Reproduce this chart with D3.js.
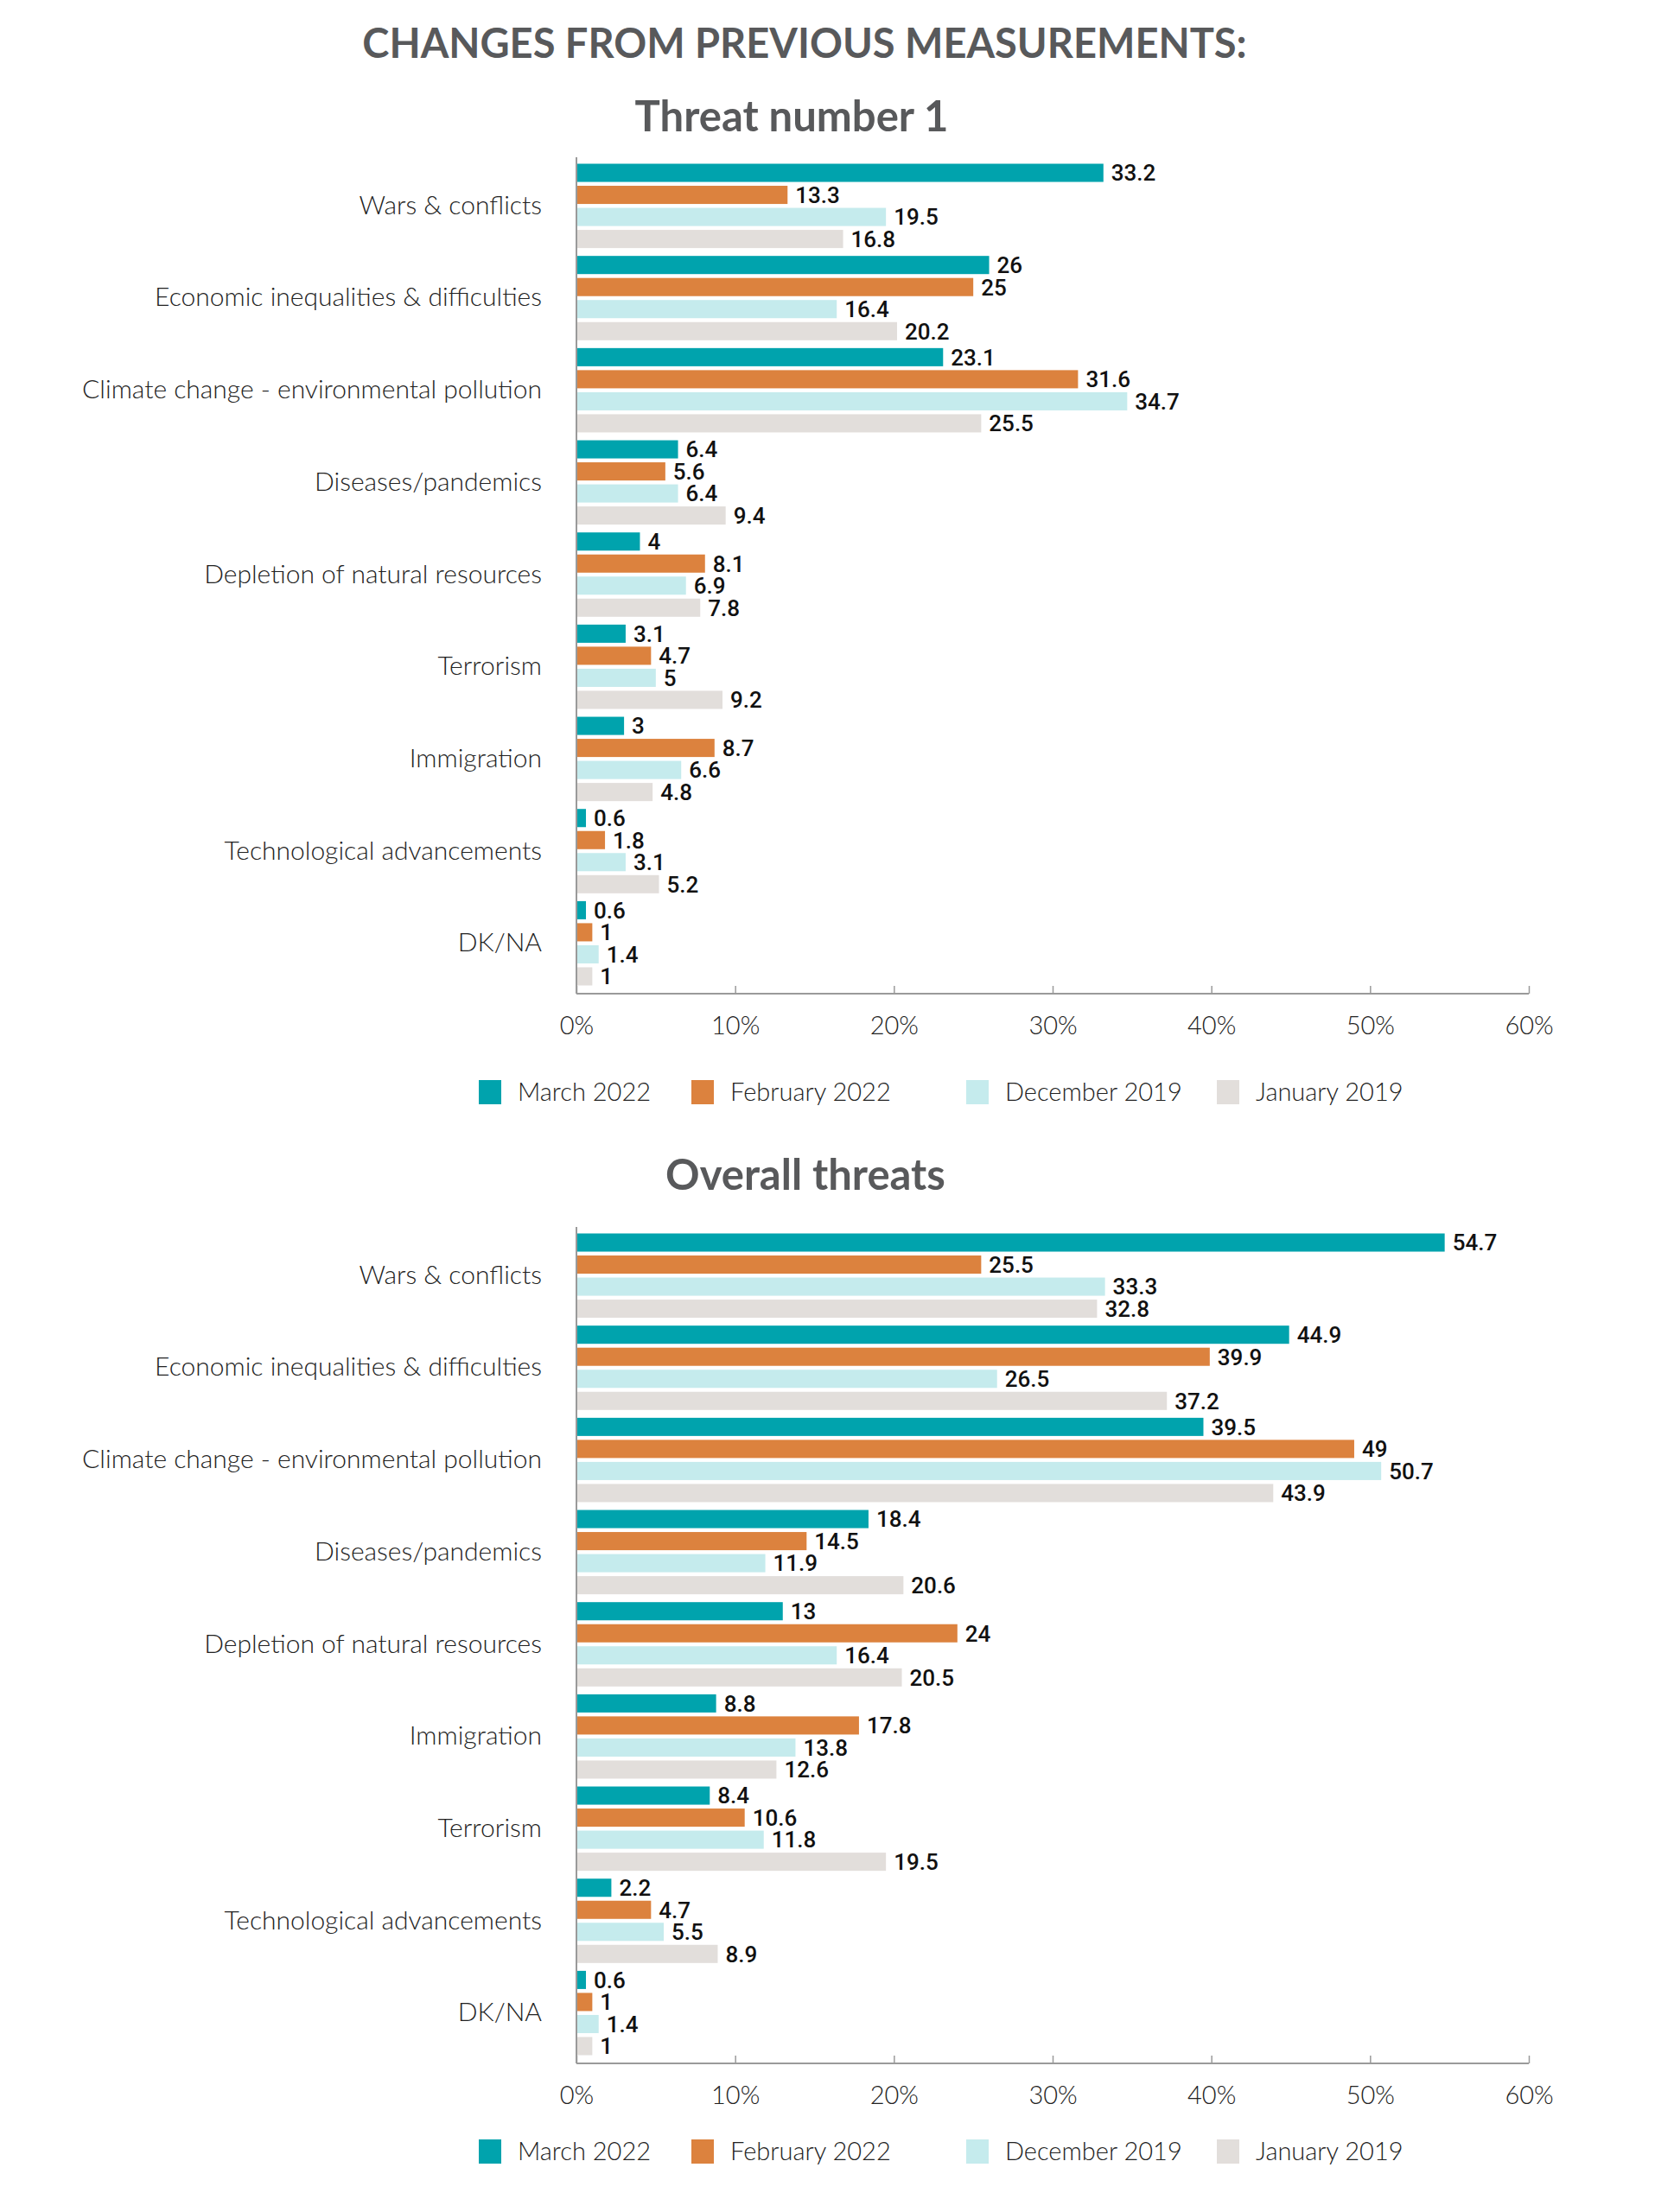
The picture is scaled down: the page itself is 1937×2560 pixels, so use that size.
<!DOCTYPE html>
<html>
<head>
<meta charset="utf-8">
<script src="https://cdn.jsdelivr.net/npm/d3@7"></script>
<style>
  html, body { margin: 0; padding: 0; background: #fff; }
  svg { display: block; }
</style>
</head>
<body>
<script>
// ---------- DATA ----------
const series = ["March 2022", "February 2022", "December 2019", "January 2019"];
const seriesColors = ["#00a3ad", "#dc823e", "#c5ebed", "#e2dedb"];

const threat1Categories = [
  "Wars & conflicts", "Economic inequalities & difficulties",
  "Climate change - environmental pollution", "Diseases/pandemics",
  "Depletion of natural resources", "Terrorism", "Immigration",
  "Technological advancements", "DK/NA"
];
const threat1March2022 = [33.2, 26, 23.1, 6.4, 4, 3.1, 3, 0.6, 0.6];
const threat1February2022 = [13.3, 25, 31.6, 5.6, 8.1, 4.7, 8.7, 1.8, 1];
const threat1December2019 = [19.5, 16.4, 34.7, 6.4, 6.9, 5, 6.6, 3.1, 1.4];
const threat1January2019 = [16.8, 20.2, 25.5, 9.4, 7.8, 9.2, 4.8, 5.2, 1];

const overallCategories = [
  "Wars & conflicts", "Economic inequalities & difficulties",
  "Climate change - environmental pollution", "Diseases/pandemics",
  "Depletion of natural resources", "Immigration", "Terrorism",
  "Technological advancements", "DK/NA"
];
const overallMarch2022 = [54.7, 44.9, 39.5, 18.4, 13, 8.8, 8.4, 2.2, 0.6];
const overallFebruary2022 = [25.5, 39.9, 49, 14.5, 24, 17.8, 10.6, 4.7, 1];
const overallDecember2019 = [33.3, 26.5, 50.7, 11.9, 16.4, 13.8, 11.8, 5.5, 1.4];
const overallJanuary2019 = [32.8, 37.2, 43.9, 20.6, 20.5, 12.6, 19.5, 8.9, 1];

const xTicks = [0, 10, 20, 30, 40, 50, 60];
const mainTitle = "CHANGES FROM PREVIOUS MEASUREMENTS:";
const chartTitles = ["Threat number 1", "Overall threats"];

// ---------- DRAW ----------
const W = 1937, H = 2560;
const svg = d3.select("body").append("svg")
  .attr("width", W).attr("height", H)
  .attr("viewBox", `0 0 ${W} ${H}`);

const titleColor = "#58595b";
const textColor = "#222";
const axisColor = "#9a9a9a";
const labelFont = "Lato, 'Open Sans', sans-serif";
const valueFont = "Roboto, 'Open Sans', sans-serif";

svg.append("text")
  .attr("x", 931).attr("y", 67)
  .attr("text-anchor", "middle")
  .attr("font-family", labelFont)
  .attr("font-weight", 700)
  .attr("font-size", 47)
  .attr("fill", titleColor)
  .text(mainTitle);

const x = d3.scaleLinear().domain([0, 60]).range([667, 1769]);

function drawChart(opts) {
  const { title, titleX, titleY, categories, values, top, legendY } = opts;
  const g = svg.append("g");

  g.append("text")
    .attr("x", titleX).attr("y", titleY)
    .attr("text-anchor", "middle")
    .attr("font-family", labelFont)
    .attr("font-weight", 700)
    .attr("font-size", 49)
    .attr("fill", titleColor)
    .text(title);

  const firstBar = top + 7.5;
  const axisY = top + 968;
  const y = d3.scaleBand()
    .domain(categories)
    .range([firstBar, firstBar + 951])
    .paddingInner(0.085)
    .paddingOuter(0);
  const ys = d3.scaleBand()
    .domain(series)
    .range([0, y.bandwidth()])
    .paddingInner(0.176)
    .paddingOuter(0);

  // bars
  categories.forEach((cat, ci) => {
    const grp = g.append("g").attr("transform", `translate(0,${y(cat)})`);
    series.forEach((s, si) => {
      const v = values[si][ci];
      grp.append("rect")
        .attr("x", x(0))
        .attr("y", ys(s))
        .attr("width", x(v) - x(0))
        .attr("height", ys.bandwidth())
        .attr("fill", seriesColors[si]);
      grp.append("text")
        .attr("x", x(v) + 9)
        .attr("y", ys(s) + ys.bandwidth() / 2)
        .attr("dy", "0.36em")
        .attr("font-family", valueFont)
        .attr("font-weight", 500)
        .attr("font-size", 26)
        .attr("fill", "#111")
        .text(v);
    });
  });

  // category labels
  g.selectAll(".cat").data(categories).enter().append("text")
    .attr("x", 627)
    .attr("y", d => y(d) + y.bandwidth() / 2 - 1)
    .attr("dy", "0.35em")
    .attr("text-anchor", "end")
    .attr("font-family", labelFont)
    .attr("font-weight", 300)
    .attr("font-size", 30)
    .attr("fill", textColor)
    .text(d => d);

  // y axis line
  g.append("line")
    .attr("x1", x(0)).attr("x2", x(0))
    .attr("y1", top).attr("y2", axisY)
    .attr("stroke", axisColor).attr("stroke-width", 2);

  // x axis
  const xAxis = d3.axisBottom(x)
    .tickValues(xTicks)
    .tickSize(-9)
    .tickPadding(26)
    .tickFormat(d => d + "%");
  const ax = g.append("g")
    .attr("transform", `translate(0,${axisY})`)
    .call(xAxis);
  ax.select(".domain").attr("stroke", axisColor).attr("stroke-width", 2)
    .attr("d", `M${x(0)},0H${x(60)}`);
  ax.selectAll(".tick line").attr("stroke", axisColor).attr("stroke-width", 1.5);
  ax.selectAll(".tick text")
    .attr("font-family", labelFont)
    .attr("font-weight", 300)
    .attr("font-size", 29)
    .attr("fill", textColor);

  // legend
  const legendX = [554, 800, 1118, 1408];
  const lg = g.append("g").attr("transform", `translate(0,${legendY})`);
  series.forEach((s, i) => {
    lg.append("rect")
      .attr("x", legendX[i]).attr("y", -14)
      .attr("width", 26).attr("height", 28)
      .attr("fill", seriesColors[i]);
    lg.append("text")
      .attr("x", legendX[i] + 45).attr("y", 0)
      .attr("dy", "0.35em")
      .attr("font-family", labelFont)
      .attr("font-weight", 300)
      .attr("font-size", 29)
      .attr("fill", textColor)
      .text(s);
  });
}

drawChart({
  title: chartTitles[0], titleX: 916, titleY: 152,
  categories: threat1Categories,
  values: [threat1March2022, threat1February2022, threat1December2019, threat1January2019],
  top: 182, legendY: 1264
});
drawChart({
  title: chartTitles[1], titleX: 932, titleY: 1377,
  categories: overallCategories,
  values: [overallMarch2022, overallFebruary2022, overallDecember2019, overallJanuary2019],
  top: 1420, legendY: 2490
});
</script>
</body>
</html>
